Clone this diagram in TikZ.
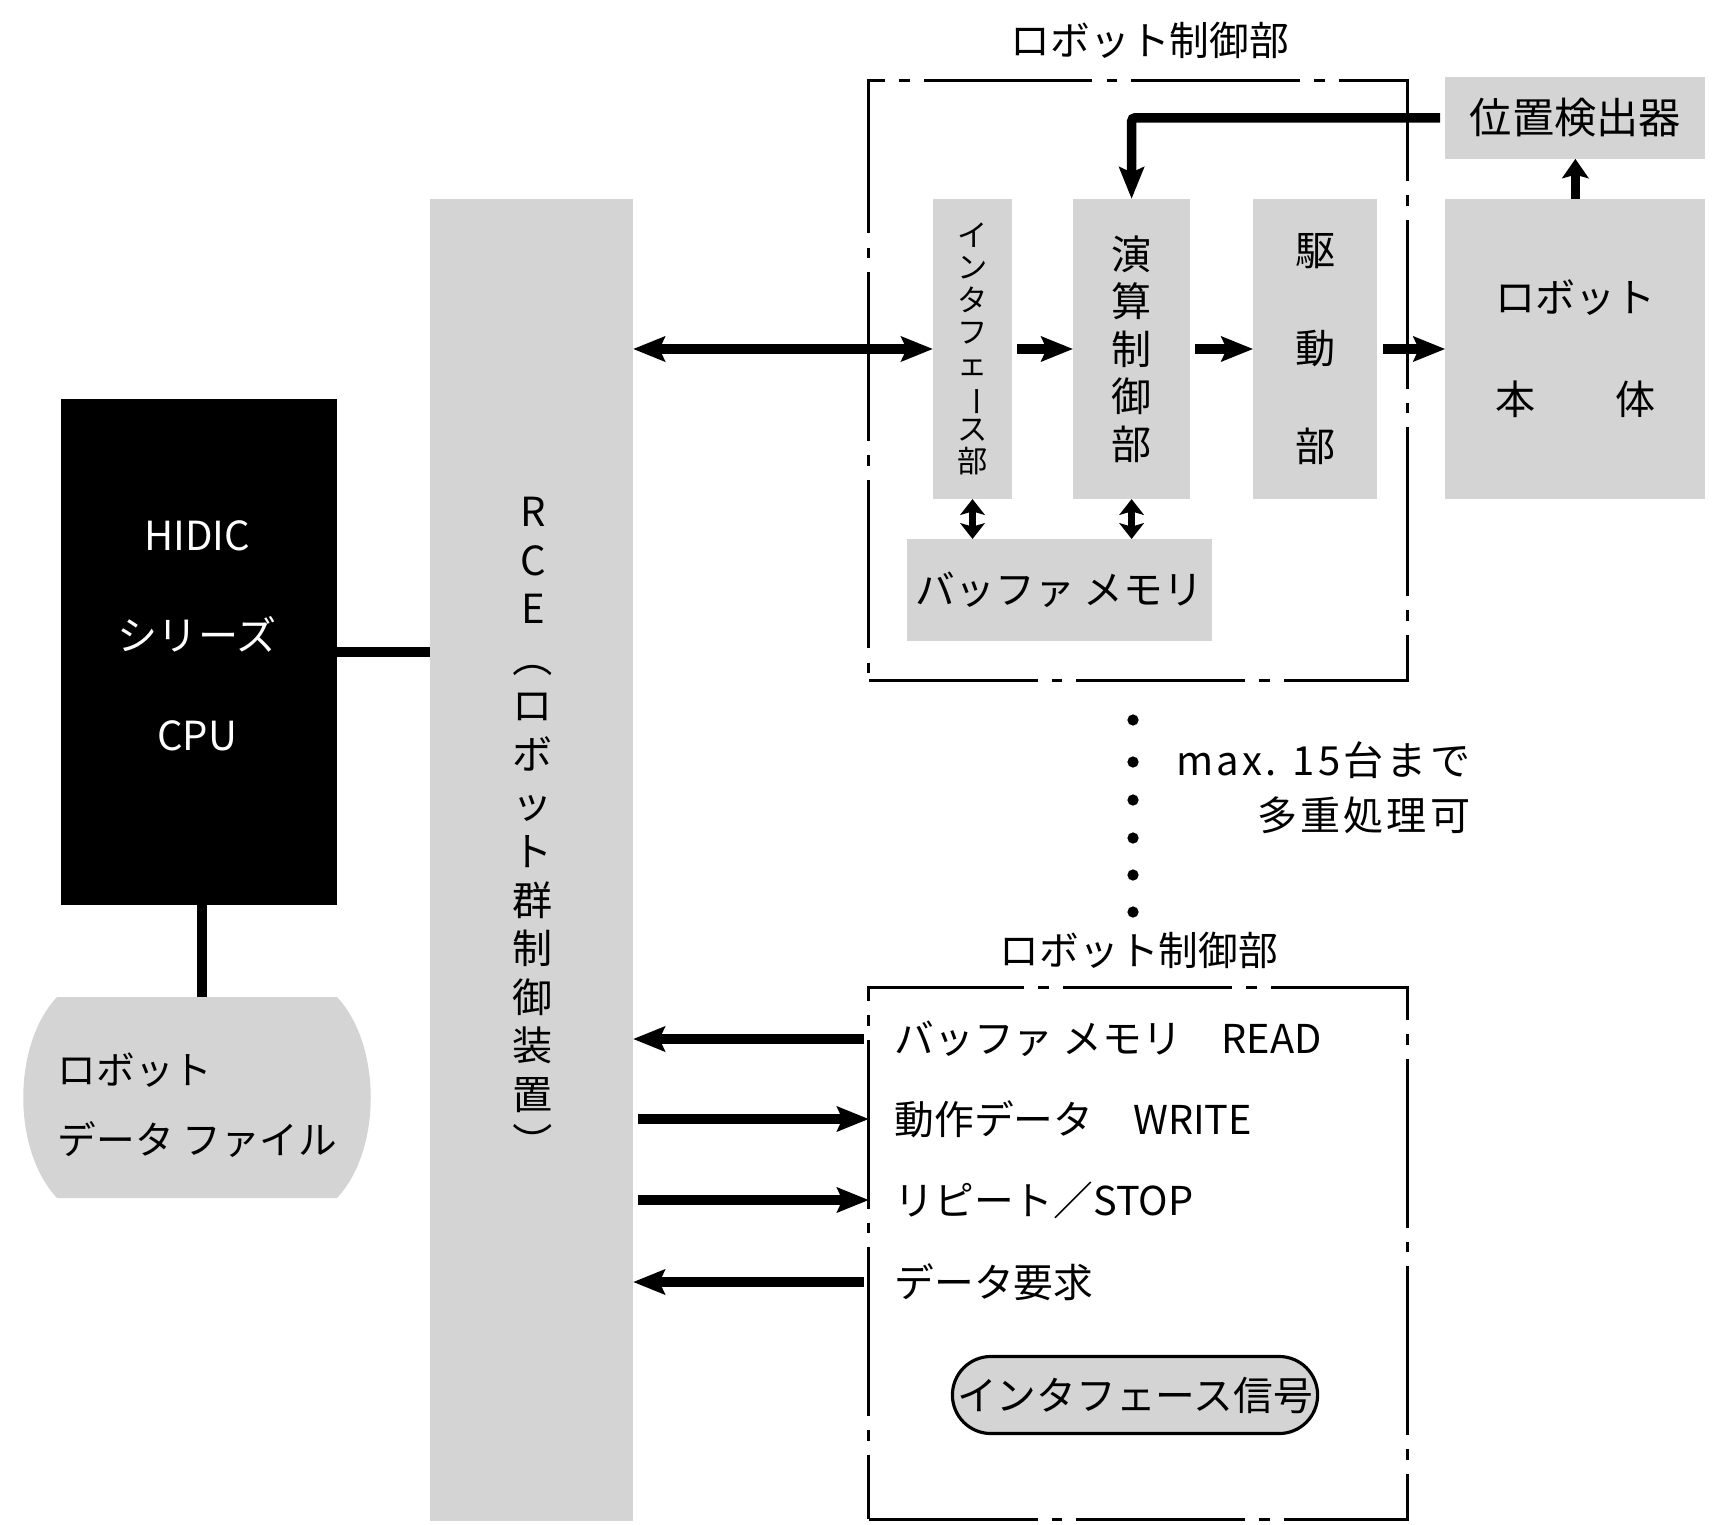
\documentclass[tikz,border=0pt]{standalone}
\usepackage{fontspec}
\setmainfont{Noto Sans CJK JP}
\usepackage{tikz}
\usetikzlibrary{arrows.meta, positioning}

\definecolor{screen}{gray}{0.83}

\tikzset{
  box/.style={fill=screen, inner sep=0pt, outer sep=0pt, align=center},
  unit/.style={draw, line width=0.9pt, dash pattern=on 48pt off 4pt on 3pt off 4pt,
    inner sep=0pt, outer sep=0pt},
  jp/.style={inner sep=0pt, font=\fontsize{11.3pt}{13.5pt}\selectfont},
  tip/.tip={Stealth[length=9pt, width=7pt, inset=1.5pt]},
  fat/.style={line width=2.7pt, -tip, shorten <=1.5pt},
  fatboth/.style={line width=2.7pt, tip-tip},
  short/.style={line width=2.7pt, -{Stealth[length=5.5pt, width=7.5pt, inset=1pt]}},
  thinboth/.style={line width=2pt, {Stealth[length=4.5pt, width=7pt, inset=1pt]}-{Stealth[length=4.5pt, width=7pt, inset=1pt]}},
  wire/.style={line width=2.6pt},
  dot/.style={circle, fill, inner sep=0pt, minimum size=3.2pt},
}

\begin{document}
\begin{tikzpicture}[x=0.01cm, y=-0.01cm]
  \useasboundingbox (0,0) rectangle (1734,1525);

  \node[box, minimum width=2.03cm, minimum height=13.22cm] (rce) at (531.5,860) {};
  \node[jp, align=center, font=\fontsize{11.4pt}{13.8pt}\selectfont] (rcename) at (533,830)
    {R\\C\\E\\\rotatebox[origin=c]{-90}{（}\\ロ\\ボ\\ッ\\ト\\群\\制\\御\\装\\置\\\rotatebox[origin=c]{-90}{）}};

  \node[fill=black, minimum width=2.76cm, minimum height=5.05cm, outer sep=0pt] (cpu) at (199,652) {};
  \node[jp, text=white, align=center, font=\fontsize{11.4pt}{28.4pt}\selectfont] (cpuname) at (197,636)
    {HIDIC\\シリーズ\\CPU};

  \fill[screen] (57,997) -- (337,997) .. controls (382,1045) and (382,1150) .. (337,1198)
    -- (57,1198) .. controls (12,1150) and (12,1045) .. (57,997);
  \coordinate (filetop) at (202,997);
  \node[jp, align=left, anchor=west, font=\fontsize{11pt}{20pt}\selectfont] (file) at (57,1105)
    {ロボット\\データ ファイル};

  \node[unit, minimum width=5.38cm, minimum height=5.99cm] (ctrlA) at (1138,380.5) {};
  \node[jp] (titleA) at (1150,40) {ロボット制御部};

  \node[box, minimum width=0.79cm, minimum height=3cm, font=\fontsize{8.6pt}{9.2pt}\selectfont]
    (iface) at (972.5,349) {イ\\ン\\タ\\フ\\ェ\\\rotatebox[origin=c]{-90}{ー}\\ス\\部};
  \node[box, minimum width=1.17cm, minimum height=3cm, right=0.61cm of iface,
    font=\fontsize{11.4pt}{13.5pt}\selectfont] (calc) {演\\算\\制\\御\\部};
  \node[box, minimum width=1.24cm, minimum height=3cm, right=0.63cm of calc,
    font=\fontsize{11.4pt}{27.9pt}\selectfont] (drive) {駆\\動\\部};
  \node[box, minimum width=2.6cm, minimum height=3cm, right=0.68cm of drive,
    font=\fontsize{11.4pt}{29pt}\selectfont] (body) {ロボット\\本　　体};
  \node[box, minimum width=2.6cm, minimum height=0.82cm, above=0.4cm of body,
    font=\fontsize{12pt}{14pt}\selectfont] (detector) {位置検出器};
  \node[box, jp, minimum width=3.05cm, minimum height=1.02cm] (buffer) at (1059.5,590) {バッファ メモリ};

  \draw[fatboth] (iface.west -| rce.east) -- (iface.west);
  \draw[fat] (iface) -- (calc);
  \draw[fat] (calc) -- (drive);
  \draw[fat] (drive) -- (body);
  \draw[short] (body) -- (detector);
  \draw[fat, rounded corners=1pt] (detector.west) -| (calc.north);
  \draw[thinboth] (iface.south) -- (iface.south |- buffer.north);
  \draw[thinboth] (calc.south) -- (calc.south |- buffer.north);

  \draw[wire] (cpu.east) -- (cpu.east -| rce.west);
  \draw[wire] (cpu.south -| filetop) -- (filetop);

  \foreach \y [count=\i] in {720,762,800,838,875,912}
    \node[dot] (d\i) at (1133,\y) {};
  \node[jp, align=right, anchor=east, font=\fontsize{11.4pt}{15.6pt}\selectfont\addfontfeature{LetterSpace=8}]
    (maxnote) at (1471,788) {max. 15台まで\\多重処理可};

  \node[unit, minimum width=5.38cm, minimum height=5.31cm] (ctrlB) at (1138,1253.5) {};
  \node[jp] (titleB) at (1139,950) {ロボット制御部};

  \node[jp, anchor=west] (r1) at (894,1039) {バッファ メモリ　READ};
  \node[jp, anchor=west] (r2) at (894,1119) {動作データ　WRITE};
  \node[jp, anchor=west] (r3) at (894,1200) {リピート／STOP};
  \node[jp, anchor=west] (r4) at (894,1282) {データ要求};

  \draw[fat] (r1 -| ctrlB.west) -- (r1 -| rce.east);
  \draw[fat] (r2 -| rce.east) -- (r2 -| ctrlB.west);
  \draw[fat] (r3 -| rce.east) -- (r3 -| ctrlB.west);
  \draw[fat] (r4 -| ctrlB.west) -- (r4 -| rce.east);

  \node[jp, draw, fill=screen, line width=0.9pt, rounded corners=0.385cm,
    minimum width=3.65cm, minimum height=0.77cm] (signal) at (1135,1395) {インタフェース信号};
\end{tikzpicture}
\end{document}
